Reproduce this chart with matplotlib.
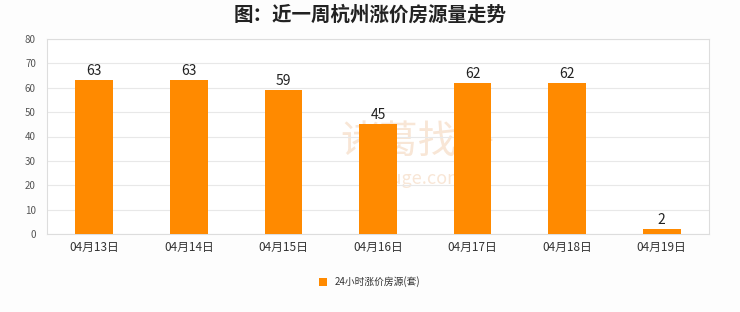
import matplotlib.pyplot as plt

plt.rcParams['font.family'] = ['Noto Sans CJK SC', 'DejaVu Sans']

dates = ['04月13日', '04月14日', '04月15日', '04月16日', '04月17日', '04月18日', '04月19日']
counts = [63, 63, 59, 45, 62, 62, 2]
series_name = '24小时涨价房源(套)'

fig = plt.figure(figsize=(7.4, 3.12), dpi=100)
fig.patch.set_facecolor('#fdfdfd')
ax = fig.add_axes([47 / 740, 1 - 234 / 312, 662 / 740, 195 / 312])
ax.set_facecolor('white')

bars = ax.bar(range(len(dates)), counts, width=0.4, color='#ff8a00', label=series_name, zorder=3)
for b, v in zip(bars, counts):
    ax.text(b.get_x() + b.get_width() / 2, v + 0.8, str(v), ha='center', va='bottom',
            fontsize=10, color='#222222', zorder=4)

ax.set_xlim(-0.5, len(dates) - 0.5)
ax.set_ylim(0, 80)
ax.set_yticks(range(0, 81, 10))
ax.set_xticks(range(len(dates)))
ax.set_xticklabels(dates, fontsize=8.5, color='#333333')
ax.tick_params(axis='y', labelsize=7, colors='#555555', length=0, pad=8)
ax.tick_params(axis='x', length=0, pad=5)
ax.grid(axis='y', color='#e8e8e8', linewidth=0.8, zorder=0)
for s in ax.spines.values():
    s.set_color('#dddddd')
    s.set_linewidth(0.8)

# faint watermark behind the bars
ax.text(0.56, 0.47, '诸葛找房', transform=ax.transAxes, ha='center', va='center', fontsize=28,
        color='#f8e6d6', zorder=1)
ax.text(0.56, 0.28, 'zhuge.com', transform=ax.transAxes, ha='center', va='center', fontsize=13,
        color='#f8e6d6', zorder=1)

fig.suptitle('图：近一周杭州涨价房源量走势', x=0.5, y=0.985, fontsize=14, fontweight='bold', color='#222222')

fig.legend(loc='center', bbox_to_anchor=(0.5, 1 - 282 / 312), frameon=False, fontsize=7,
           handlelength=0.8, handleheight=0.8, handletextpad=0.8, labelcolor='#333333')

fig.savefig('out.png', dpi=100, facecolor=fig.get_facecolor())
